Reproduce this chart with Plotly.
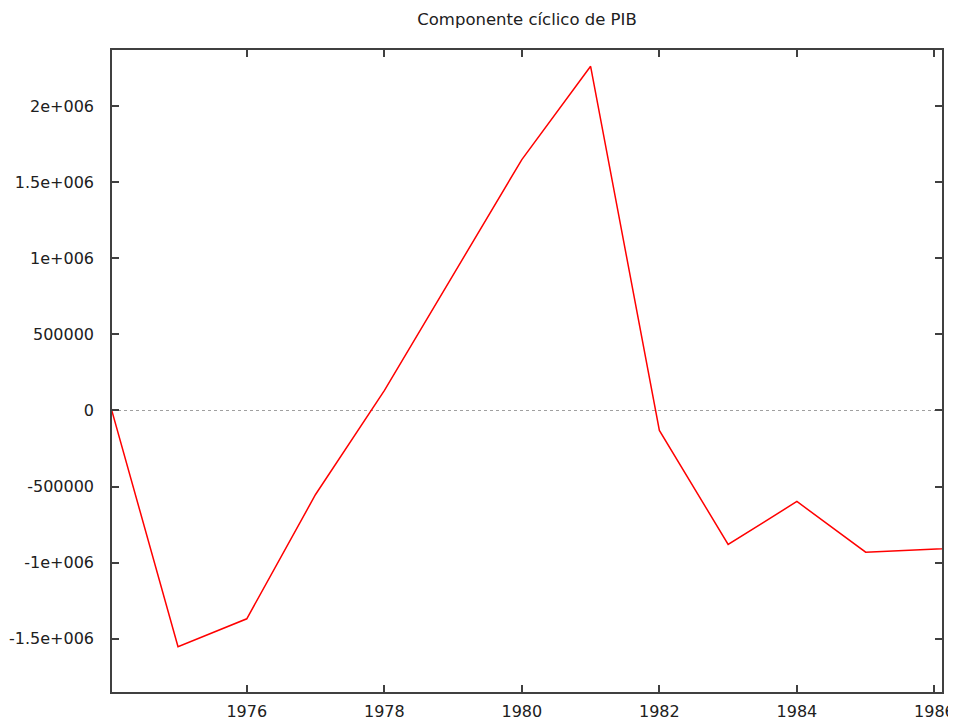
import plotly.graph_objects as go

# Data
years = [1974, 1975, 1976, 1977, 1978, 1979, 1980, 1981, 1982, 1983, 1984, 1985, 1986, 1987]
ciclo_pib = [0.06e6, -1.553e6, -1.369e6, -0.552e6, 0.13e6, 0.89e6, 1.649e6, 2.262e6,
             -0.131e6, -0.880e6, -0.598e6, -0.931e6, -0.912e6, -0.892e6]

x_tick_vals = [1976, 1978, 1980, 1982, 1984, 1986]
x_tick_text = ["1976", "1978", "1980", "1982", "1984", "1986"]
y_tick_vals = [-1.5e6, -1e6, -5e5, 0, 5e5, 1e6, 1.5e6, 2e6]
y_tick_text = ["-1.5e+006", "-1e+006", "-500000", "0", "500000", "1e+006", "1.5e+006", "2e+006"]

title_text = "Componente cíclico de PIB"

axis_color = "#404040"
font_family = "DejaVu Sans"

# the page body adds an ~8px offset; compensate so the figure fills the window
OFF = 8
W, H = 956 - OFF, 721 - OFF

fig = go.Figure()
fig.add_trace(go.Scatter(
    x=years, y=ciclo_pib, mode="lines",
    line=dict(color="#ff0000", width=1.5),
    showlegend=False, hoverinfo="x+y",
))

fig.add_shape(type="line", xref="paper", x0=0, x1=1, yref="y", y0=0, y1=0,
              line=dict(color="#a0a0a0", width=1.2, dash="3px,3px"), layer="below")

fig.update_layout(
    width=W, height=H,
    margin=dict(l=112 - OFF, r=14, t=50 - OFF, b=29, pad=0, autoexpand=False),
    paper_bgcolor="white", plot_bgcolor="white",
    font=dict(family=font_family, size=16, color="#202020"),
    title=dict(text=title_text, x=(527 - OFF) / W, xanchor="center",
               y=1 - (19 - OFF) / H, yanchor="middle", yref="container", automargin=False,
               font=dict(family=font_family, size=16.5, color="#202020")),
)

fig.update_xaxes(
    range=[1974.04, 1986.11], tickmode="array", tickvals=x_tick_vals, ticktext=x_tick_text,
    showgrid=False, zeroline=False, showline=True, linecolor=axis_color, linewidth=1.5,
    mirror="allticks", ticks="inside", ticklen=7, tickwidth=1.5, tickcolor=axis_color,
    ticklabelstandoff=4, tickfont=dict(size=16), automargin=False,
)
fig.update_yaxes(
    range=[-1.85e6, 2.369e6], tickmode="array", tickvals=y_tick_vals, ticktext=y_tick_text,
    showgrid=False, zeroline=False, showline=True, linecolor=axis_color, linewidth=1.5,
    mirror="allticks", ticks="inside", ticklen=7, tickwidth=1.5, tickcolor=axis_color,
    ticklabelstandoff=13, tickfont=dict(size=16), automargin=False,
)

fig.write_html("out.html", config={"displayModeBar": False})
